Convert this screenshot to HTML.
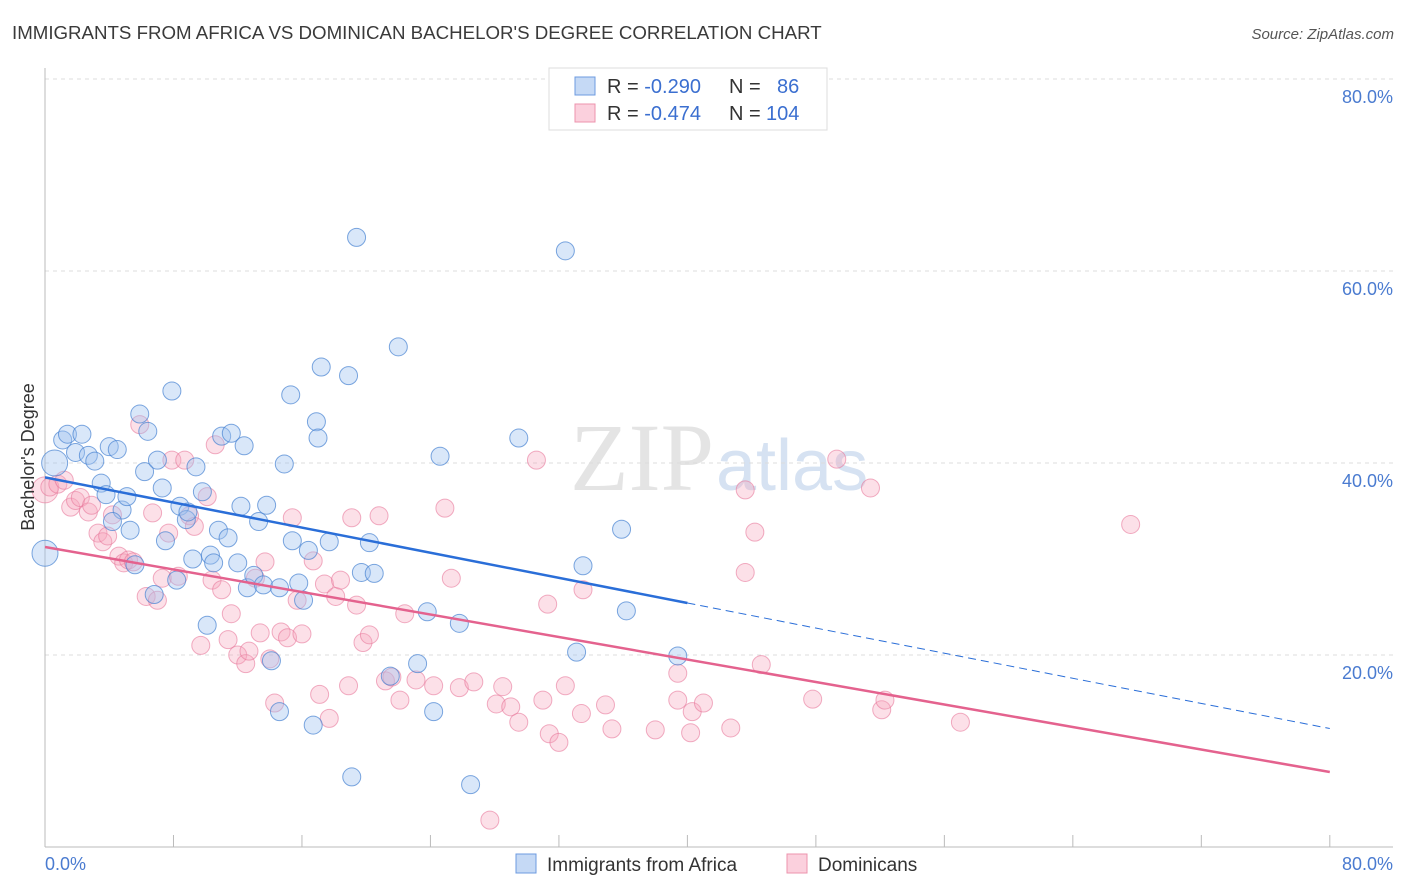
<!DOCTYPE html>
<html><head><meta charset="utf-8"><style>
body{margin:0;background:#fff;font-family:"Liberation Sans",sans-serif}
#wrap{position:relative;width:1406px;height:892px;overflow:hidden}
</style></head><body>
<div id="wrap">
<svg id="svg" width="1406" height="892" xmlns="http://www.w3.org/2000/svg">
<text x="12" y="39" font-size="18.7" fill="#3a3a3a">IMMIGRANTS FROM AFRICA VS DOMINICAN BACHELOR'S DEGREE CORRELATION CHART</text>
<text x="1394" y="39" font-size="15" fill="#555" font-style="italic" text-anchor="end">Source: ZipAtlas.com</text>
<text x="714" y="490" font-size="96" fill="#e4e4e4" text-anchor="end" font-family="Liberation Serif">ZIP</text>
<text x="716" y="490" font-size="72" fill="#d6e2f2">atlas</text>
<g id="grid"></g><g id="pts"></g><g id="lines"></g>
<text x="34" y="457" font-size="18" fill="#333" text-anchor="middle" transform="rotate(-90 34 457)">Bachelor's Degree</text>
<text x="45" y="870" font-size="18" fill="#4a7bd0">0.0%</text>
<text x="1393" y="870" font-size="18" fill="#4a7bd0" text-anchor="end">80.0%</text>
<g>
<rect x="549" y="68" width="278" height="62" fill="#fff" stroke="#ddd"/>
<rect x="575" y="77" width="20" height="18" fill="#c5d9f5" stroke="#6d9be0"/>
<rect x="575" y="104" width="20" height="18" fill="#fbd0dd" stroke="#ec93ad"/>
<text x="607" y="93" font-size="20" fill="#333">R = <tspan fill="#3b6fd0">-0.290</tspan><tspan x="729">N = </tspan><tspan x="777" fill="#3b6fd0">86</tspan></text>
<text x="607" y="120" font-size="20" fill="#333">R = <tspan fill="#3b6fd0">-0.474</tspan><tspan x="729">N = </tspan><tspan x="766" fill="#3b6fd0">104</tspan></text>
</g>
<g>
<rect x="516" y="854" width="20" height="19" fill="#c5d9f5" stroke="#6d9be0"/>
<text x="547" y="871" font-size="19" fill="#333">Immigrants from Africa</text>
<rect x="787" y="854" width="20" height="19" fill="#fbd0dd" stroke="#ec93ad"/>
<text x="818" y="871" font-size="19" fill="#333">Dominicans</text>
</g>
</svg>
</div>
<script>
const yTicks=[20,40,60,80];
const yTickLabels=["20.0%","40.0%","60.0%","80.0%"];
const xTicks=[0,8,16,24,32,40,48,56,64,72,80];
const blueX=[0,0.6,1.1,1.4,2.3,1.9,2.7,3.1,3.5,3.8,4.0,4.5,4.8,5.1,4.2,5.3,5.6,5.9,6.4,6.2,6.8,7.0,7.3,7.5,7.9,8.2,8.4,8.8,8.9,9.2,9.4,9.8,10.1,10.3,10.5,10.8,11.0,11.4,11.6,12.0,12.2,12.4,12.6,13.0,13.3,13.6,13.8,14.1,14.6,14.6,14.9,15.3,15.4,15.8,16.1,16.4,16.7,16.9,17.0,17.2,17.7,18.9,19.1,19.4,19.7,20.2,20.5,21.5,22.0,23.2,23.8,24.2,24.6,25.8,26.5,29.5,32.4,33.1,33.5,35.9,36.2,39.4];
const blueY=[30.6,40.0,42.4,43.0,43.0,41.1,40.8,40.2,37.9,36.7,41.7,41.4,35.1,36.5,33.9,33.0,29.4,45.1,43.3,39.1,26.3,40.3,37.4,31.9,47.5,27.8,35.5,34.1,34.9,30.0,39.6,37.0,23.1,30.4,29.6,33.0,42.8,32.2,43.1,29.6,35.5,41.8,27.0,28.3,33.9,27.3,35.6,19.4,14.1,27.0,39.9,47.1,31.9,27.5,25.7,30.9,12.7,44.3,42.6,50.0,31.8,49.1,7.3,63.5,28.6,31.7,28.5,17.8,52.1,19.1,24.5,14.1,40.7,23.3,6.5,42.6,62.1,20.3,29.3,33.1,24.6,19.9];
const pinkX=[0,0.3,0.8,1.2,1.6,1.9,2.2,2.7,2.9,3.3,3.6,3.9,4.2,4.6,4.9,5.2,5.5,5.9,6.3,6.7,7.0,7.3,7.7,7.9,8.3,8.7,9.0,9.3,9.7,10.1,10.4,10.6,11.0,11.4,11.6,12.0,12.5,12.7,13.1,13.4,13.7,14.0,14.3,14.7,15.1,15.4,15.7,16.0,16.7,17.1,17.4,17.7,18.1,18.4,18.9,19.1,19.4,19.8,20.2,20.8,21.2,21.6,22.1,22.4,23.1,24.2,24.9,25.3,25.8,26.7,27.7,28.1,28.5,29.0,29.5,30.6,31.0,31.3,31.4,32.0,32.4,33.4,33.5,34.9,35.3,38.0,39.4,39.4,40.2,40.3,41.0,42.7,43.6,43.6,44.2,44.6,47.8,49.3,51.4,52.1,52.3,57.0,67.6];
const pinkY=[37.2,37.5,37.8,38.2,35.4,36.1,36.4,34.9,35.6,32.7,31.8,32.4,34.6,30.3,29.6,29.9,29.7,44.0,26.1,34.8,25.7,28.0,32.7,40.3,28.2,40.3,34.5,33.4,21.0,36.5,27.8,41.9,26.8,21.6,24.3,20.0,19.1,20.4,28.0,22.3,29.7,19.6,15.0,22.4,21.8,34.3,25.7,22.2,29.8,15.9,27.4,13.4,26.1,27.8,16.8,34.3,25.2,21.3,22.1,34.5,17.3,17.7,15.3,24.3,17.4,16.8,35.3,28.0,16.6,17.2,2.8,14.9,16.7,14.6,13.0,40.3,15.3,25.3,11.8,10.9,16.8,13.9,26.8,14.8,12.3,12.2,18.1,15.3,11.9,14.1,15.0,12.4,37.2,28.6,32.8,19.0,15.4,40.4,37.4,14.3,15.3,13.0,33.6];
const blueLine=[38.5,-0.327];
const pinkLine=[31.25,-0.293];
const NS="http://www.w3.org/2000/svg";
const X=v=>45+v*16.06, Y=v=>847-v*9.6;
function mk(t,a,p){const e=document.createElementNS(NS,t);for(const k in a)e.setAttribute(k,a[k]);p.appendChild(e);return e;}
const grid=document.getElementById('grid');
yTicks.forEach((t,i)=>{
 const l=mk('line',{x1:45,x2:1393,y1:Y(t),y2:Y(t),stroke:'#dcdcdc','stroke-dasharray':'4,4'},grid);
 
 
 const tx=mk('text',{x:1393,y:Y(t)+24,'font-size':18,fill:'#4a7bd0','text-anchor':'end'},grid);
 tx.textContent=yTickLabels[i];
 
 
});
const ax=mk('line',{x1:45,x2:1393,y1:847,y2:847,stroke:'#bbb'},grid);


const ay=mk('line',{x1:45,x2:45,y1:68,y2:847,stroke:'#bbb'},grid);


xTicks.forEach(t=>{const l=mk('line',{x1:X(t),x2:X(t),y1:835,y2:847,stroke:'#bbb'},grid);
 
 });
const pts=document.getElementById('pts');
pinkX.forEach((x,i)=>{const c=mk('circle',{cx:X(x),cy:Y(pinkY[i]),r:i==0?13:9,fill:'rgba(246,165,190,0.35)',stroke:'rgba(232,120,155,0.6)','stroke-width':1},pts);
 
 });
blueX.forEach((x,i)=>{const c=mk('circle',{cx:X(x),cy:Y(blueY[i]),r:i<2?13:9,fill:'rgba(160,196,240,0.4)',stroke:'rgba(70,130,210,0.7)','stroke-width':1},pts);
 
 });
const lines=document.getElementById('lines');
const bl=mk('line',{x1:X(0),y1:Y(blueLine[0]),x2:X(40),y2:Y(blueLine[0]+blueLine[1]*40),stroke:'#2a6ed8','stroke-width':2.5},lines);


const bd=mk('line',{x1:X(40),y1:Y(blueLine[0]+blueLine[1]*40),x2:X(80),y2:Y(blueLine[0]+blueLine[1]*80),stroke:'#2a6ed8','stroke-width':1,'stroke-dasharray':'8,5'},lines);


const pl=mk('line',{x1:X(0),y1:Y(pinkLine[0]),x2:X(80),y2:Y(pinkLine[0]+pinkLine[1]*80),stroke:'#e4628e','stroke-width':2.5},lines);


</script>
</body></html>
